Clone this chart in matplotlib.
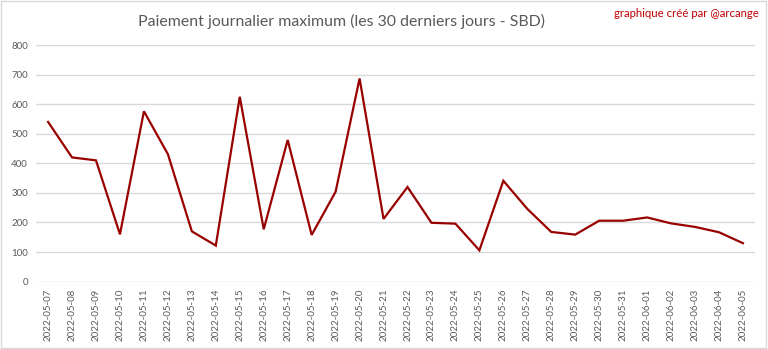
import matplotlib
matplotlib.use("Agg")
import matplotlib.pyplot as plt
from matplotlib.patches import Rectangle
import pandas as pd

# Max daily payout over the last 30 days (SBD)
dates = pd.date_range("2022-05-07", "2022-06-05", freq="D").strftime("%Y-%m-%d").tolist()
max_payout = [540, 420, 410, 160, 576, 431, 170, 122, 625, 177,
              479, 158, 304, 687, 212, 320, 199, 196, 106, 341,
              246, 168, 159, 206, 206, 217, 197, 185, 167, 130]
y_ticks = [0, 100, 200, 300, 400, 500, 600, 700, 800]

plt.rcParams["font.family"] = ["Lato", "DejaVu Sans"]

fig = plt.figure(figsize=(7.68, 3.49), dpi=100)
ax = fig.add_axes([0.047, 0.193, 0.936, 0.678])

x = list(range(len(dates)))
ax.plot(x, max_payout, color="#990000", linewidth=1.6, solid_joinstyle="miter")

ax.set_xlim(-0.5, len(dates) - 0.5)
ax.set_ylim(0, 800)
ax.set_yticks(y_ticks)
ax.set_xticks(x)
ax.set_xticklabels(dates, rotation=90, fontsize=7, color="#595959")
ax.set_yticklabels([str(v) for v in y_ticks], fontsize=7, color="#595959")
ax.tick_params(length=0, pad=6)
ax.tick_params(axis="x", pad=5)

ax.grid(axis="y", color="#d9d9d9", linewidth=1)
ax.set_axisbelow(True)
for s in ax.spines.values():
    s.set_visible(False)

fig.text(0.445, 0.938, "Paiement journalier maximum (les 30 derniers jours - SBD)",
         ha="center", va="center", fontsize=11.4, color="#595959")
fig.text(0.988, 0.96, "graphique créé par @arcange",
         ha="right", va="center", fontsize=8.2, color="#c00000")

# light frame around the whole chart
fig.patches.append(Rectangle((0.001, 0.002), 0.997, 0.995, transform=fig.transFigure,
                             fill=False, edgecolor="#d9d9d9", linewidth=1))

fig.savefig("out.png", dpi=100)
